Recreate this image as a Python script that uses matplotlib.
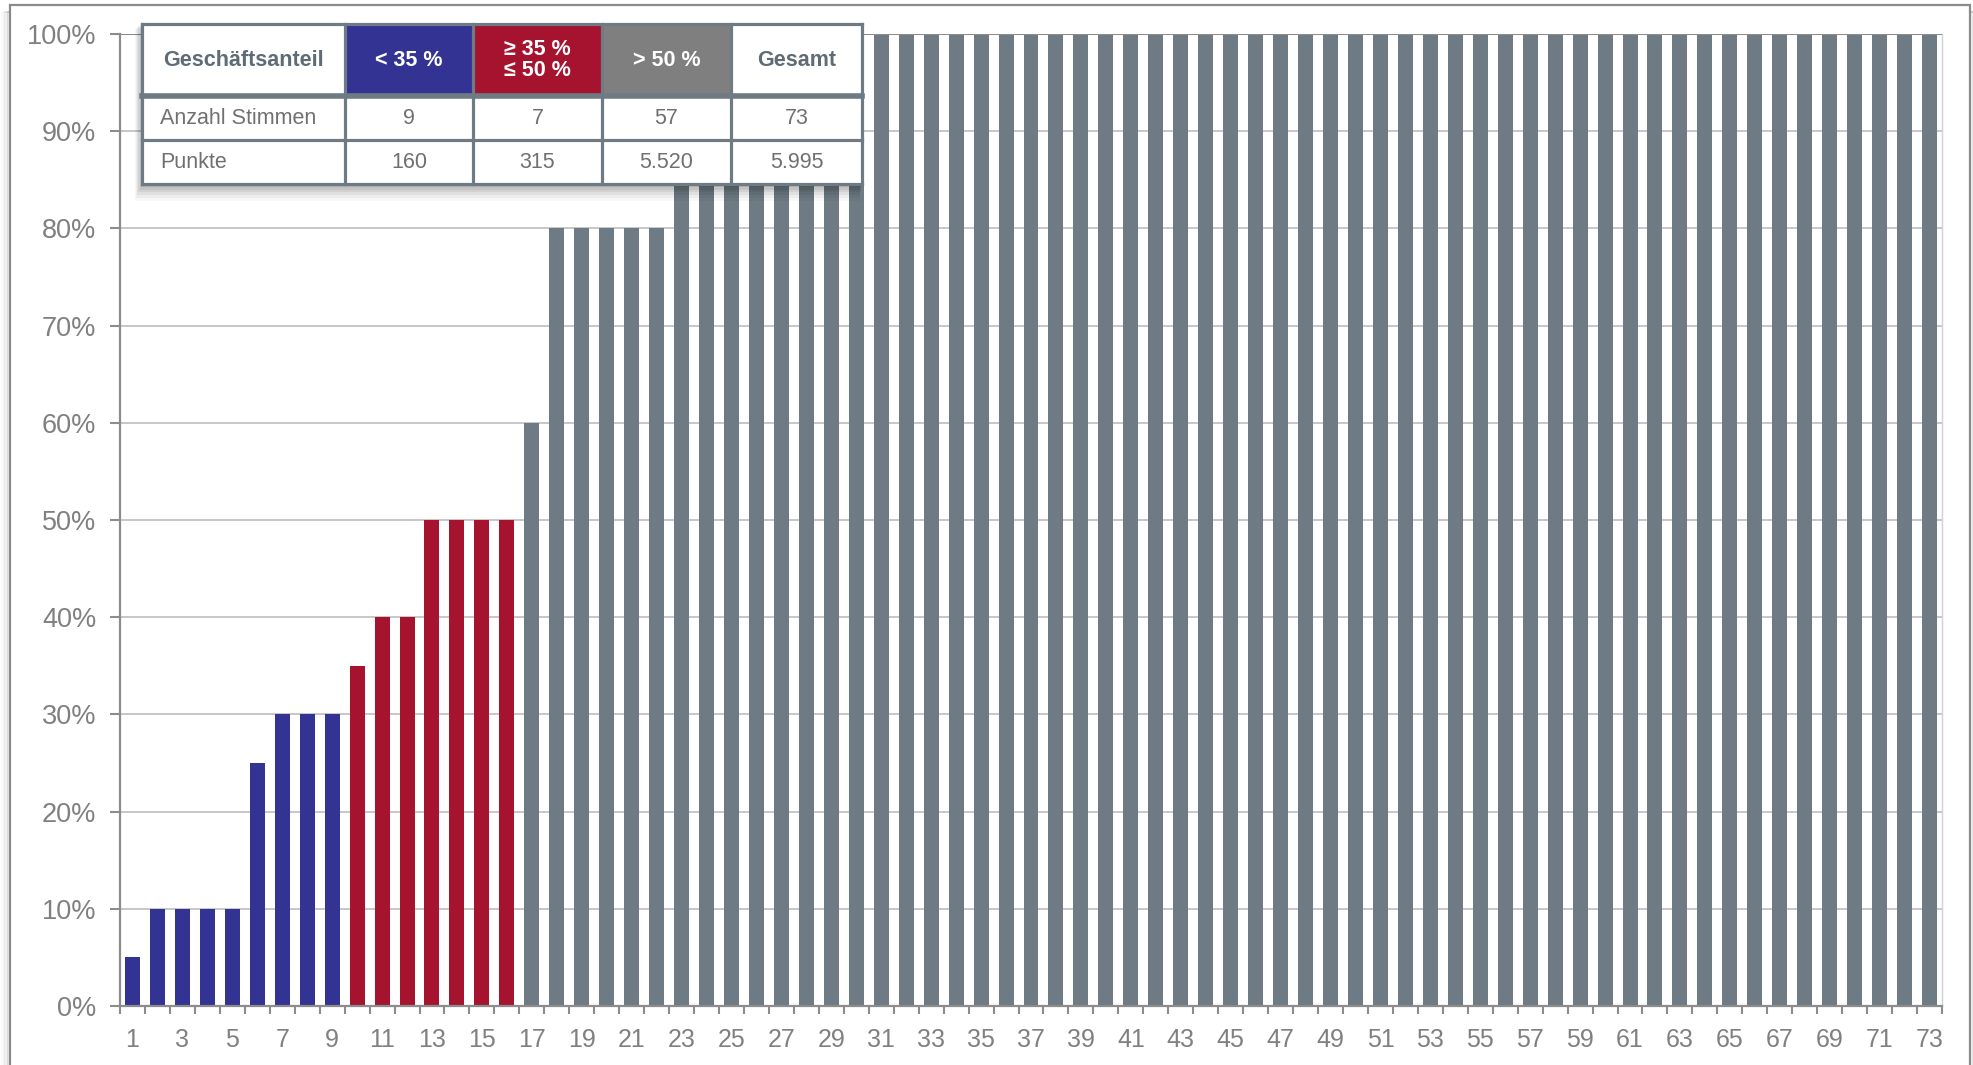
import matplotlib
matplotlib.use("Agg")
import matplotlib.pyplot as plt
import numpy as np
from matplotlib.patches import Rectangle

# Data
voters = np.arange(1, 74)
shares = np.array([5, 10, 10, 10, 10, 25, 30, 30, 30,          # < 35 %
                   35, 40, 40, 50, 50, 50, 50,                 # 35 - 50 %
                   60, 80, 80, 80, 80, 80,
                   95, 95, 95, 95, 95, 95, 95, 95] + [100] * 43)  # > 50 %
groups = np.array([0] * 9 + [1] * 7 + [2] * 57)
group_colors = ['#333394', '#a6132f', '#6e7b84']

table_header = ['Geschäftsanteil', '< 35 %', '≥ 35 %\n≤ 50 %', '> 50 %', 'Gesamt']
table_rows = [['Anzahl Stimmen', '9', '7', '57', '73'],
              ['Punkte', '160', '315', '5.520', '5.995']]
header_fill = ['white', '#333394', '#a6132f', '#7f7f7f', 'white']
header_text = ['#5f6b75', 'white', 'white', 'white', '#5f6b75']

W, H = 1974, 1065
plt.rcParams['font.family'] = ['Liberation Sans', 'DejaVu Sans']

fig = plt.figure(figsize=(W / 100, H / 100), dpi=100)
fig.patch.set_facecolor('white')

# outer frame with a soft shadow on the left
bg = fig.add_axes([0, 0, 1, 1])
bg.set_xlim(0, W)
bg.set_ylim(H, 0)
bg.axis('off')
for i, a in enumerate([0.05, 0.08, 0.12, 0.16, 0.2]):
    bg.add_patch(Rectangle((2 + i * 1.5, 12), 1968, H, facecolor='none',
                           edgecolor='#808080', alpha=a, lw=1.2))
bg.add_patch(Rectangle((10, 5), 1960, H, facecolor='white', edgecolor='#8a8a8a', lw=1.6))

ax = fig.add_axes([120 / W, 1 - 1006 / H, (1942 - 120) / W, (1006 - 34) / H])
ax.set_facecolor('none')
ax.bar(voters, shares, width=0.6, color=[group_colors[g] for g in groups], zorder=3)
ax.set_xlim(0.5, 73.5)
ax.set_ylim(0, 100)

yt = np.arange(0, 101, 10)
ax.set_yticks(yt)
ax.set_yticklabels([f'{v}%' for v in yt])
for v in yt[1:-1]:
    ax.axhline(v, color='#c3c3c3', lw=1.3, zorder=1)
ax.axhline(100, color='#8c8c8c', lw=1.5, zorder=4)

ax.set_xticks(np.arange(0.5, 74, 1))
ax.set_xticklabels([])
ax.set_xticks(voters[::2], minor=True)
ax.set_xticklabels([str(v) for v in voters[::2]], minor=True)
ax.tick_params(axis='x', which='major', length=6, width=1.5, color='#8c8c8c')
ax.tick_params(axis='x', which='minor', length=0, pad=16, labelsize=18, labelcolor='#808080')
ax.tick_params(axis='y', length=7, width=1.5, color='#8c8c8c', pad=10,
               labelsize=19.5, labelcolor='#808080')
ax.spines['top'].set_visible(False)
ax.spines['right'].set_color('#d0d0d0')
ax.spines['right'].set_linewidth(1)
for s in ['left', 'bottom']:
    ax.spines[s].set_color('#8c8c8c')
    ax.spines[s].set_linewidth(1.6)
    ax.spines[s].set_zorder(5)

# summary table drawn in pixel space
tb = fig.add_axes([0, 0, 1, 1])
tb.set_xlim(0, W)
tb.set_ylim(H, 0)
tb.axis('off')
cols = [142, 345, 473, 602, 731, 862]
rows = [24, 95, 140, 184]
border = '#6e7b85'
x0, x1, y0, y1 = cols[0], cols[-1], rows[0], rows[-1]
for i, a in enumerate([0.03, 0.04, 0.05, 0.06, 0.07, 0.08]):
    d = 12 - 2 * i
    tb.add_patch(Rectangle((x0 - d * 0.6, y0 + d * 0.4), (x1 - x0) + d * 0.4, (y1 - y0) + d,
                           facecolor='black', edgecolor='none', alpha=a))
tb.add_patch(Rectangle((x0, y0), x1 - x0, y1 - y0, facecolor='white', edgecolor='none'))
for j in range(5):
    tb.add_patch(Rectangle((cols[j], rows[0]), cols[j + 1] - cols[j], rows[1] - rows[0],
                           facecolor=header_fill[j], edgecolor='none'))
    tb.text((cols[j] + cols[j + 1]) / 2, (rows[0] + rows[1]) / 2 + 0.5, table_header[j],
            ha='center', va='center', color=header_text[j], fontweight='bold',
            fontsize=15.5, linespacing=1.05)
centers = [119, 162]
for r, row in enumerate(table_rows):
    yc = centers[r]
    tb.text(cols[0] + 18, yc, row[0], ha='left', va='center', color='#707070', fontsize=15.5)
    for j in range(1, 5):
        tb.text((cols[j] + cols[j + 1]) / 2, yc, row[j], ha='center', va='center',
                color='#707070', fontsize=15.5)
for x in cols:
    tb.plot([x, x], [y0, y1], color=border, lw=2.3, solid_capstyle='projecting')
for y in rows:
    tb.plot([x0, x1], [y, y], color=border, lw=2.3, solid_capstyle='projecting')
tb.plot([x0, x1], [rows[1] + 1, rows[1] + 1], color=border, lw=4)

fig.savefig('out.png', dpi=100, facecolor='white')
